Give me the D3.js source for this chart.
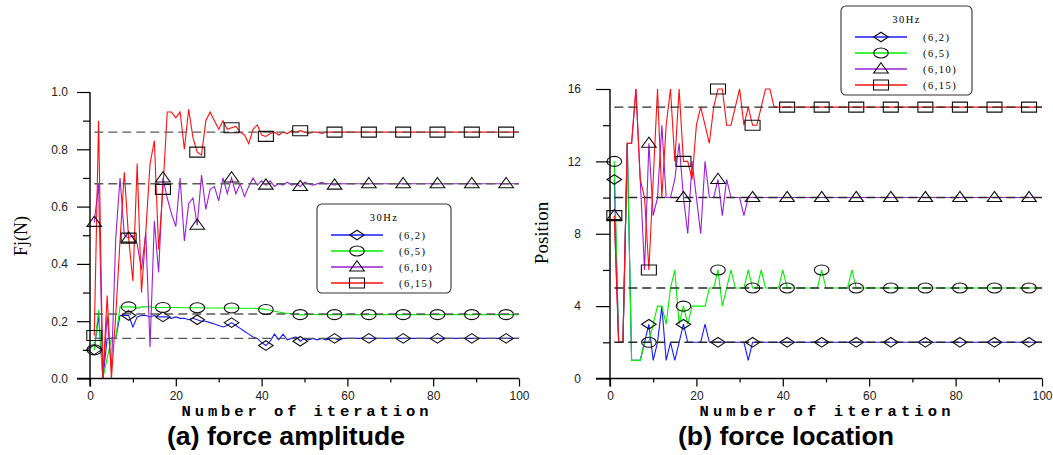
<!doctype html>
<html lang="en">
<head>
<meta charset="utf-8">
<style>
  body, html { margin:0; padding:0; background:#fff; overflow:hidden; }
  svg { display:block; }
  .tick text { font-family:"Liberation Sans", Arial, sans-serif; font-size:12px; fill:#222; }
  .tick line { stroke:#000; stroke-width:1.2; }
</style>
</head>
<body>
<div id="chart"></div>
<script src="https://cdn.jsdelivr.net/npm/d3@7"></script>
<script>

// iterations 1..100
const iterations = d3.range(1, 101);

// (a) force amplitude Fj(N)
const blueA = [
  0.10, 0.22, 0.0, 0.14, 0.14, 0.14, 0.22, 0.22, 0.22, 0.18,
  0.215, 0.22, 0.22, 0.215, 0.22, 0.215, 0.215, 0.215, 0.21, 0.215,
  0.21, 0.21, 0.205, 0.21, 0.205, 0.20, 0.20, 0.195, 0.19, 0.185,
  0.18, 0.185, 0.195, 0.185, 0.175, 0.165, 0.155, 0.145, 0.14, 0.125,
  0.115, 0.13, 0.155, 0.135, 0.155, 0.135, 0.14, 0.145, 0.13, 0.14,
  0.135, 0.14, 0.135, 0.14, 0.135, 0.14, 0.14, 0.135, 0.14, 0.14,
  0.14, 0.14, 0.14, 0.14, 0.14, 0.14, 0.14, 0.14, 0.14, 0.14,
  0.14, 0.14, 0.14, 0.14, 0.14, 0.14, 0.14, 0.14, 0.14, 0.14,
  0.14, 0.14, 0.14, 0.14, 0.14, 0.14, 0.14, 0.14, 0.14, 0.14,
  0.14, 0.14, 0.14, 0.14, 0.14, 0.14, 0.14, 0.14, 0.14, 0.14
];
const greenA = [
  0.10, 0.24, 0.0, 0.07, 0.14, 0.14, 0.25, 0.25, 0.25, 0.25,
  0.245, 0.25, 0.25, 0.25, 0.248, 0.248, 0.248, 0.248, 0.248, 0.248,
  0.248, 0.247, 0.247, 0.247, 0.247, 0.247, 0.246, 0.246, 0.246, 0.246,
  0.246, 0.246, 0.246, 0.246, 0.245, 0.245, 0.245, 0.245, 0.244, 0.243,
  0.241, 0.238, 0.235, 0.232, 0.229, 0.227, 0.225, 0.224, 0.223, 0.222,
  0.223, 0.224, 0.223, 0.223, 0.223, 0.223, 0.223, 0.223, 0.223, 0.223,
  0.223, 0.223, 0.223, 0.223, 0.223, 0.223, 0.223, 0.223, 0.223, 0.223,
  0.223, 0.223, 0.223, 0.223, 0.223, 0.223, 0.223, 0.223, 0.223, 0.223,
  0.223, 0.223, 0.223, 0.223, 0.223, 0.223, 0.223, 0.223, 0.223, 0.223,
  0.223, 0.223, 0.223, 0.223, 0.223, 0.223, 0.223, 0.223, 0.223, 0.223
];
const purpleA = [
  0.545, 0.68, 0.0, 0.22, 0.03, 0.49, 0.70, 0.50, 0.49, 0.50,
  0.47, 0.38, 0.51, 0.11, 0.55, 0.37, 0.70, 0.63, 0.575, 0.53,
  0.70, 0.48, 0.61, 0.63, 0.535, 0.71, 0.59, 0.66, 0.67, 0.62,
  0.70, 0.645, 0.70, 0.645, 0.68, 0.635, 0.67, 0.70, 0.675, 0.69,
  0.675, 0.69, 0.67, 0.68, 0.675, 0.685, 0.675, 0.68, 0.67, 0.685,
  0.68, 0.675, 0.68, 0.685, 0.68, 0.68, 0.675, 0.68, 0.68, 0.68,
  0.68, 0.68, 0.68, 0.68, 0.68, 0.68, 0.68, 0.68, 0.68, 0.68,
  0.68, 0.68, 0.68, 0.68, 0.68, 0.68, 0.68, 0.68, 0.68, 0.68,
  0.68, 0.68, 0.68, 0.68, 0.68, 0.68, 0.68, 0.68, 0.68, 0.68,
  0.68, 0.68, 0.68, 0.68, 0.68, 0.68, 0.68, 0.68, 0.68, 0.68
];
const redA = [
  0.15, 0.90, 0.0, 0.29, 0.0, 0.22, 0.48, 0.72, 0.49, 0.34,
  0.75, 0.30, 0.51, 0.75, 0.83, 0.45, 0.66, 0.93, 0.93, 0.91,
  0.93, 0.80, 0.94, 0.84, 0.79, 0.78, 0.90, 0.93, 0.90, 0.87,
  0.90, 0.87, 0.875, 0.88, 0.86, 0.85, 0.82, 0.87, 0.885, 0.85,
  0.845, 0.855, 0.86, 0.85, 0.86, 0.855, 0.865, 0.86, 0.865, 0.86,
  0.855, 0.86, 0.86, 0.855, 0.86, 0.86, 0.86, 0.86, 0.86, 0.86,
  0.86, 0.86, 0.86, 0.86, 0.86, 0.86, 0.86, 0.86, 0.86, 0.86,
  0.86, 0.86, 0.86, 0.86, 0.86, 0.86, 0.86, 0.86, 0.86, 0.86,
  0.86, 0.86, 0.86, 0.86, 0.86, 0.86, 0.86, 0.86, 0.86, 0.86,
  0.86, 0.86, 0.86, 0.86, 0.86, 0.86, 0.86, 0.86, 0.86, 0.86
];
const targetsA = [0.86, 0.68, 0.225, 0.14];

// (b) force location
const blueB = [
  11, 2, 2, 13, 1, 1, 1, 2, 3, 1,
  2, 4, 1, 2, 1, 2, 3, 2, 2, 2,
  2, 3, 2, 2, 2, 2, 2, 2, 2, 2,
  2, 1, 2, 2, 2, 2, 2, 2, 2, 2,
  2, 2, 2, 2, 2, 2, 2, 2, 2, 2,
  2, 2, 2, 2, 2, 2, 2, 2, 2, 2,
  2, 2, 2, 2, 2, 2, 2, 2, 2, 2,
  2, 2, 2, 2, 2, 2, 2, 2, 2, 2,
  2, 2, 2, 2, 2, 2, 2, 2, 2, 2,
  2, 2, 2, 2, 2, 2, 2, 2, 2, 2
];
const greenB = [
  12, 2, 2, 13, 1, 1, 1, 2, 2, 3,
  4, 4, 3, 5, 6, 3, 4, 3, 4, 4,
  4, 4, 5, 5, 6, 4, 5, 6, 5, 5,
  5, 6, 5, 5, 6, 5, 5, 5, 5, 6,
  5, 5, 5, 5, 5, 5, 5, 5, 6, 5,
  5, 5, 5, 5, 5, 6, 5, 5, 5, 5,
  5, 5, 5, 5, 5, 5, 5, 5, 5, 5,
  5, 5, 5, 5, 5, 5, 5, 5, 5, 5,
  5, 5, 5, 5, 5, 5, 5, 5, 5, 5,
  5, 5, 5, 5, 5, 5, 5, 5, 5, 5
];
const purpleB = [
  9, 2, 2, 13, 13, 16, 11, 6, 13, 9,
  10, 14, 10, 10, 11, 13, 10, 8, 12, 10,
  8, 12, 10, 10, 11, 9, 11, 10, 10, 10,
  9, 10, 10, 10, 10, 10, 10, 10, 10, 10,
  10, 10, 10, 10, 10, 10, 10, 10, 10, 10,
  10, 10, 10, 10, 10, 10, 10, 10, 10, 10,
  10, 10, 10, 10, 10, 10, 10, 10, 10, 10,
  10, 10, 10, 10, 10, 10, 10, 10, 10, 10,
  10, 10, 10, 10, 10, 10, 10, 10, 10, 10,
  10, 10, 10, 10, 10, 10, 10, 10, 10, 10
];
const redB = [
  9, 2, 2, 13, 13, 16, 11, 10, 6, 11,
  16, 10, 14, 16, 12, 16, 12, 12, 11, 14,
  15, 14, 13, 15, 16, 16, 14, 14, 15, 16,
  14, 15, 14, 14, 15, 16, 16, 15, 15, 15,
  15, 15, 15, 15, 15, 15, 15, 15, 15, 15,
  15, 15, 15, 15, 15, 15, 15, 15, 15, 15,
  15, 15, 15, 15, 15, 15, 15, 15, 15, 15,
  15, 15, 15, 15, 15, 15, 15, 15, 15, 15,
  15, 15, 15, 15, 15, 15, 15, 15, 15, 15,
  15, 15, 15, 15, 15, 15, 15, 15, 15, 15
];
const targetsB = [15, 10, 5, 2];

const seriesNames = ["(6,2)", "(6,5)", "(6,10)", "(6,15)"];
const seriesColors = ["#1a1aff", "#00ee00", "#9a1fd0", "#ff1010"];
const seriesMarkers = ["diamond", "ellipse", "triangle", "square"];
const markerIters = [1, 9, 17, 25, 33, 41, 49, 57, 65, 73, 81, 89, 97];
const legendTitle = "30Hz";

const W = 1053, H = 455;
const svg = d3.select("#chart").append("svg").attr("width", W).attr("height", H);

const markerPath = (type) => {
  switch (type) {
    case "diamond": return "M-7.3,0L0,-4.8L7.3,0L0,4.8Z";
    case "triangle": return "M0,-6.2L7.3,4L-7.3,4Z";
    case "square": return "M-7.5,-5H7.5V5H-7.5Z";
    default: return null;
  }
};

const drawMarker = (g, type, x, y) => {
  if (type === "ellipse") {
    g.append("ellipse").attr("cx", x).attr("cy", y).attr("rx", 7.3).attr("ry", 5)
      .attr("fill", "none").attr("stroke", "#111").attr("stroke-width", 1.1);
  } else {
    g.append("path").attr("d", markerPath(type)).attr("transform", `translate(${x},${y})`)
      .attr("fill", "none").attr("stroke", "#111").attr("stroke-width", 1.1);
  }
};

const drawPanel = (opt) => {
  const x = d3.scaleLinear().domain([0, 100]).range(opt.xr);
  const y = d3.scaleLinear().domain(opt.yd).range(opt.yr);
  const g = svg.append("g");

  // series lines
  const line = d3.line().x((d, i) => x(iterations[i])).y((d) => y(d));
  opt.data.forEach((s, k) => {
    g.append("path").datum(s).attr("d", line).attr("fill", "none")
      .attr("stroke", seriesColors[k]).attr("stroke-width", 1.1);
  });

  // dashed target lines
  g.selectAll("line.target").data(opt.targets).enter().append("line")
    .attr("x1", x(1)).attr("x2", x(100))
    .attr("y1", (d) => y(d)).attr("y2", (d) => y(d))
    .attr("stroke", opt.dashColor).attr("stroke-width", 1.4)
    .attr("stroke-dasharray", "9,5");

  // markers
  opt.data.forEach((s, k) => {
    markerIters.forEach((it) => drawMarker(g, seriesMarkers[k], x(it), y(s[it - 1])));
  });

  // axes
  const x0 = opt.xr[0], y0 = opt.yr[0];
  const yMajor = g.append("g").attr("transform", `translate(${x0},0)`)
    .call(d3.axisLeft(y).tickValues(opt.yMajor).tickSize(opt.yTick).tickPadding(opt.yPad).tickFormat(opt.yFmt));
  yMajor.select(".domain").remove();
  const yMinor = g.append("g").attr("transform", `translate(${x0},0)`)
    .call(d3.axisLeft(y).tickValues(opt.yMinor).tickSize(7).tickFormat(""));
  yMinor.select(".domain").remove();

  const xMajor = g.append("g").attr("transform", `translate(0,${y0})`)
    .call(d3.axisBottom(x).tickValues([0, 20, 40, 60, 80, 100]).tickSize(8).tickPadding(5));
  xMajor.select(".domain").remove();
  const xMinor = g.append("g").attr("transform", `translate(0,${y0})`)
    .call(d3.axisBottom(x).tickValues([10, 30, 50, 70, 90]).tickSize(4).tickFormat(""));
  xMinor.select(".domain").remove();

  g.append("line").attr("x1", x0).attr("x2", x0).attr("y1", opt.yr[1]).attr("y2", y0 + 8)
    .attr("stroke", "#000").attr("stroke-width", 1.4);
  g.append("line").attr("x1", x0 - opt.yTick).attr("x2", opt.xr[1]).attr("y1", y0).attr("y2", y0)
    .attr("stroke", "#000").attr("stroke-width", 1.4);

  // axis titles
  g.append("text")
    .attr("transform", `translate(${opt.yTitleX},${opt.yTitleY}) rotate(-90)`)
    .attr("text-anchor", "middle").attr("dominant-baseline", "central")
    .style("font-family", "'Liberation Serif', 'Times New Roman', serif")
    .style("font-size", opt.yTitleSize + "px")
    .text(opt.yTitle);

  g.append("text")
    .attr("x", opt.xTitleX).attr("y", 416)
    .attr("text-anchor", "middle")
    .attr("textLength", opt.xTitleW).attr("lengthAdjust", "spacing")
    .style("font-family", "'Liberation Mono', 'Courier New', monospace")
    .style("font-weight", "bold").style("font-size", "15.5px")
    .text("Number of iteration");

  g.append("text")
    .attr("x", opt.capX).attr("y", 445)
    .attr("text-anchor", "middle")
    .attr("textLength", opt.capW).attr("lengthAdjust", "spacingAndGlyphs")
    .style("font-family", "'Liberation Sans', Arial, sans-serif")
    .style("font-weight", "bold").style("font-size", "26px")
    .text(opt.caption);

  // legend
  const lg = g.append("g").attr("transform", `translate(${opt.legX},${opt.legY})`);
  lg.append("rect").attr("x", 0).attr("y", 0).attr("width", opt.legW).attr("height", 89)
    .attr("rx", 5).attr("ry", 5).attr("fill", "#fff").attr("stroke", "#333").attr("stroke-width", 1.1);
  lg.append("text").attr("x", opt.legW / 2).attr("y", 13)
    .attr("text-anchor", "middle").attr("dominant-baseline", "central")
    .style("font-family", "'Liberation Serif', serif").style("font-size", "10.5px")
    .style("letter-spacing", "1.5px").text(legendTitle);
  seriesNames.forEach((name, k) => {
    const ry = 31 + k * 16;
    lg.append("line").attr("x1", 14).attr("x2", 66).attr("y1", ry).attr("y2", ry)
      .attr("stroke", seriesColors[k]).attr("stroke-width", 1.3);
    drawMarker(lg, seriesMarkers[k], 40, ry);
    lg.append("text").attr("x", 82).attr("y", ry)
      .attr("dominant-baseline", "central")
      .style("font-family", "'Liberation Serif', serif").style("font-size", "10.5px")
      .style("letter-spacing", "1.5px").text(name);
  });
};

drawPanel({
  xr: [90, 519], yd: [0, 1], yr: [378.5, 92],
  data: [blueA, greenA, purpleA, redA], targets: targetsA, dashColor: "#5a5a5a",
  yMajor: [0, 0.2, 0.4, 0.6, 0.8, 1.0], yMinor: [0.1, 0.3, 0.5, 0.7, 0.9],
  yTick: 13, yPad: 9, yFmt: d3.format(".1f"),
  yTitle: "Fj(N)", yTitleX: 21, yTitleY: 236, yTitleSize: 18,
  xTitleX: 305, xTitleW: 247,
  caption: "(a) force amplitude", capX: 286, capW: 238,
  legX: 317, legY: 204, legW: 134
});

drawPanel({
  xr: [610, 1042], yd: [0, 16], yr: [378.5, 89],
  data: [blueB, greenB, purpleB, redB], targets: targetsB, dashColor: "#2a2a2a",
  yMajor: [0, 4, 8, 12, 16], yMinor: [2, 6, 10, 14],
  yTick: 14, yPad: 15, yFmt: d3.format("d"),
  yTitle: "Position", yTitleX: 541, yTitleY: 233, yTitleSize: 19,
  xTitleX: 825, xTitleW: 251,
  caption: "(b) force location", capX: 786, capW: 216,
  legX: 841, legY: 6, legW: 131
});

</script>
</body>
</html>
